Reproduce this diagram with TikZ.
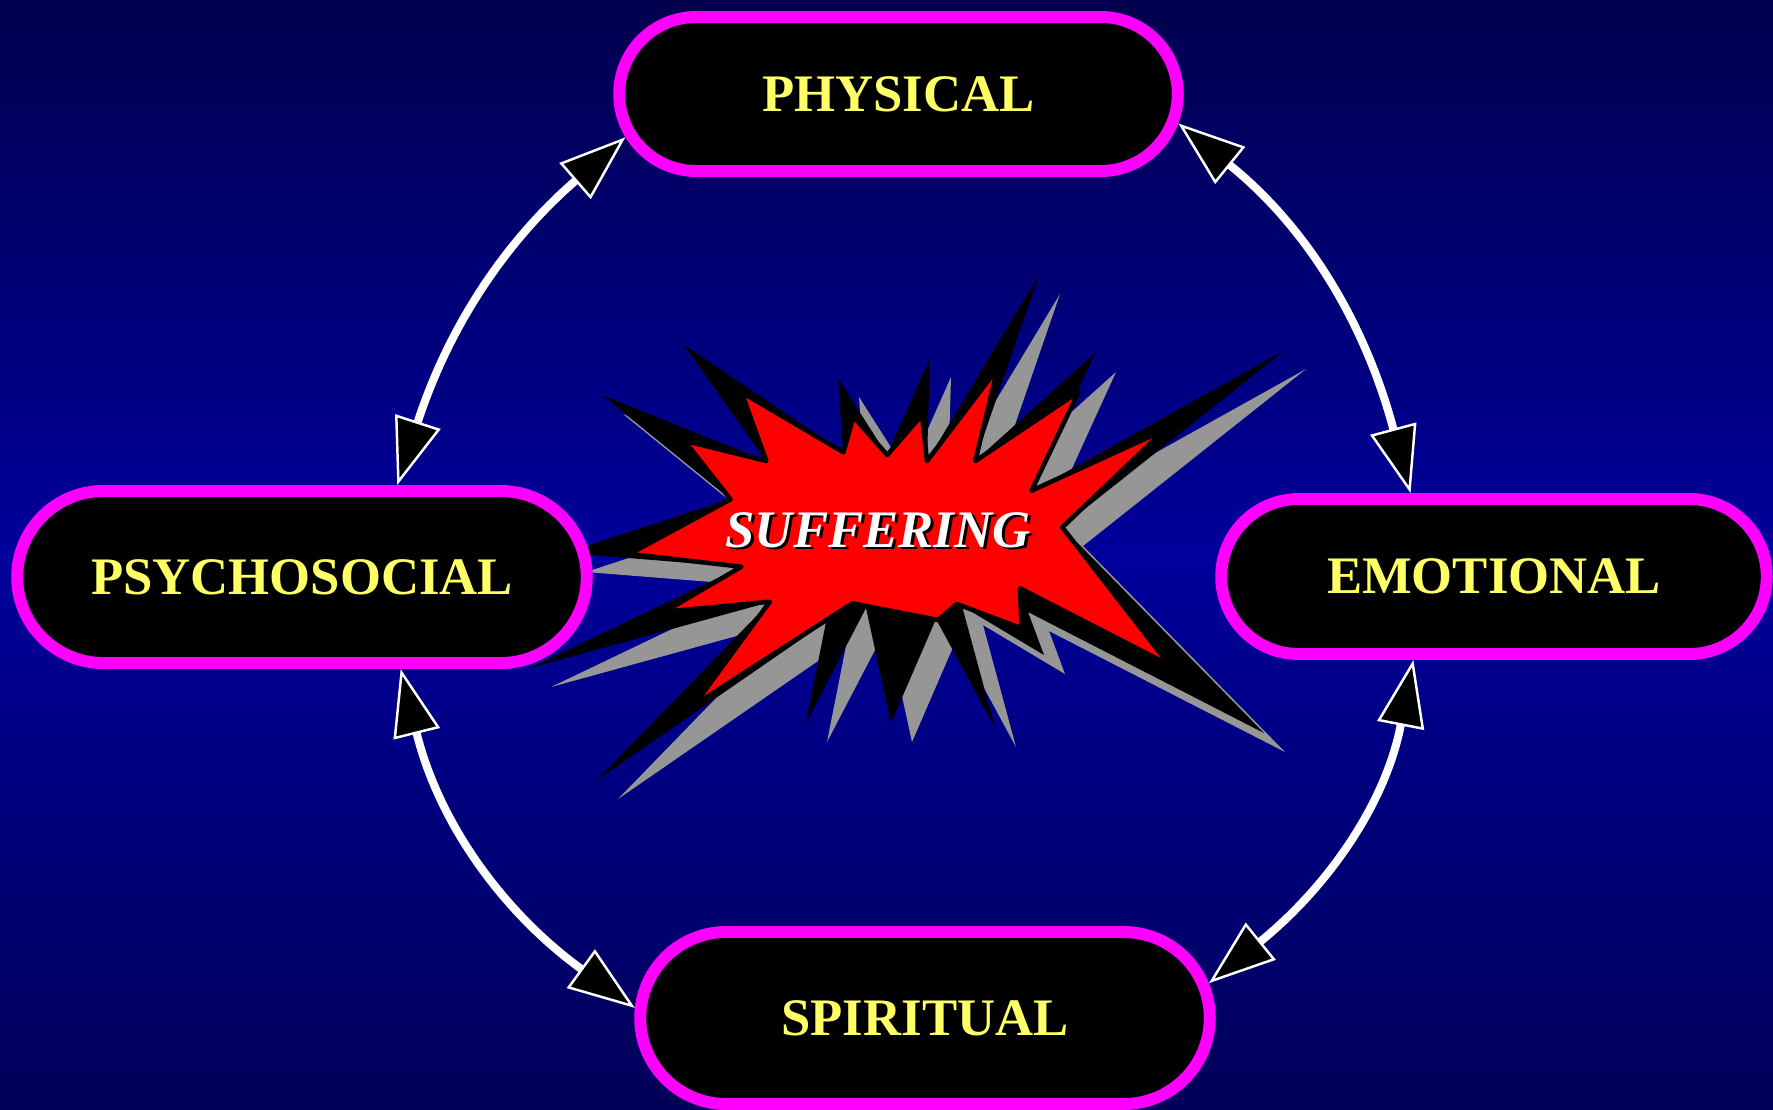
\documentclass[tikz,border=0pt]{standalone}
\usepackage{fontspec}
\setmainfont{Liberation Serif}
\usetikzlibrary{shapes.misc,arrows.meta}

\definecolor{skytop}{RGB}{0,0,78}
\definecolor{skymid}{RGB}{0,0,155}
\definecolor{skybottom}{RGB}{0,0,88}
\definecolor{ringpink}{RGB}{255,0,255}
\definecolor{labelyellow}{RGB}{255,255,102}
\definecolor{burstred}{RGB}{255,0,0}
\definecolor{burstgray}{RGB}{150,150,150}

\tikzset{
  facet/.style={rounded rectangle, draw=ringpink, fill=black, line width=3.4pt,
    text=labelyellow, font=\fontsize{15}{18}\selectfont\bfseries},
  burstlabel/.style={text=white, inner sep=0pt,
    font=\fontsize{15}{18}\selectfont\bfseries\itshape},
  linktip/.tip={Triangle[length=19pt, width=13.5pt, fill=black, line width=0.7pt]},
  link/.style={draw=white, line width=2.3pt, linktip-linktip},
}

\begin{document}
\begin{tikzpicture}[x=0.1mm, y=0.1mm]
    \useasboundingbox (0,-1109) rectangle (1773,0);
    \shade[top color=skytop, bottom color=skybottom, middle color=skymid] (0,-1109) rectangle (1773,0);

    % burst: grey shadow, black body, red face
    \foreach \dx/\dy/\tone in {21/-19/burstgray, 0/0/black} {
        \fill[\tone, shift={(\dx,\dy)}] (1039,-275) -- (975,-461) -- (1095,-353) -- (1032,-491)
            -- (1285,-350) -- (1062,-527) -- (1264,-733) -- (1028,-612) -- (1044,-655)
            -- (962,-606) -- (995,-728) -- (936,-619) -- (891,-723) -- (866,-608)
            -- (806,-723) -- (826,-622) -- (597,-780) -- (770,-602) -- (530,-668)
            -- (741,-567) -- (565,-553) -- (730,-499) -- (602,-395) -- (766,-461)
            -- (684,-345) -- (843,-452) -- (838,-378) -- (887,-455) -- (930,-358)
            -- (927,-461) -- cycle;
    }
    \filldraw[fill=burstred, draw=black, line width=1.3pt, line join=round]
        (997.6,-368.3) -- (975.3,-461) -- (1078.7,-391.7) -- (1031.5,-490.7)
        -- (1164.3,-430) -- (1062.3,-527.3) -- (1169.3,-665) -- (1020,-588.3)
        -- (1021.5,-628.3) -- (956.9,-604) -- (938,-620) -- (852.4,-603.3)
        -- (694.2,-705) -- (769.8,-601.7) -- (664.4,-611.7) -- (741.5,-566.7)
        -- (629.5,-554) -- (730.5,-499.3) -- (684.3,-440.7) -- (766.3,-461)
        -- (741.5,-392.3) -- (843.4,-452.3) -- (853.4,-416.7) -- (887.2,-455)
        -- (922,-415) -- (927,-461) -- cycle;
    \node[burstlabel, text=black] (suffershade) at (881,-532) {SUFFERING};
    \node[burstlabel] (suffer) at (878,-530) {SUFFERING};

    % the four sides
    \node[facet, minimum width=58.2mm, minimum height=15.4mm] (phys) at (898.5,-94) {PHYSICAL};
    \node[facet, minimum width=59.3mm, minimum height=17.2mm] (psy) at (302,-577) {PSYCHOSOCIAL};
    \node[facet, minimum width=56.9mm, minimum height=15.5mm] (emo) at (1494,-576.5) {EMOTIONAL};
    \node[facet, minimum width=59.3mm, minimum height=17.2mm] (spi) at (925,-1018) {SPIRITUAL};

    \draw[link] (phys.189) to[out=221, in=72] (psy.44);
    \draw[link] (phys.354) to[out=321, in=105] (emo.135);
    \draw[link] (emo.226) to[out=259, in=39] (spi.7);
    \draw[link] (psy.317) to[out=284, in=144] (spi.178);
\end{tikzpicture}
\end{document}
